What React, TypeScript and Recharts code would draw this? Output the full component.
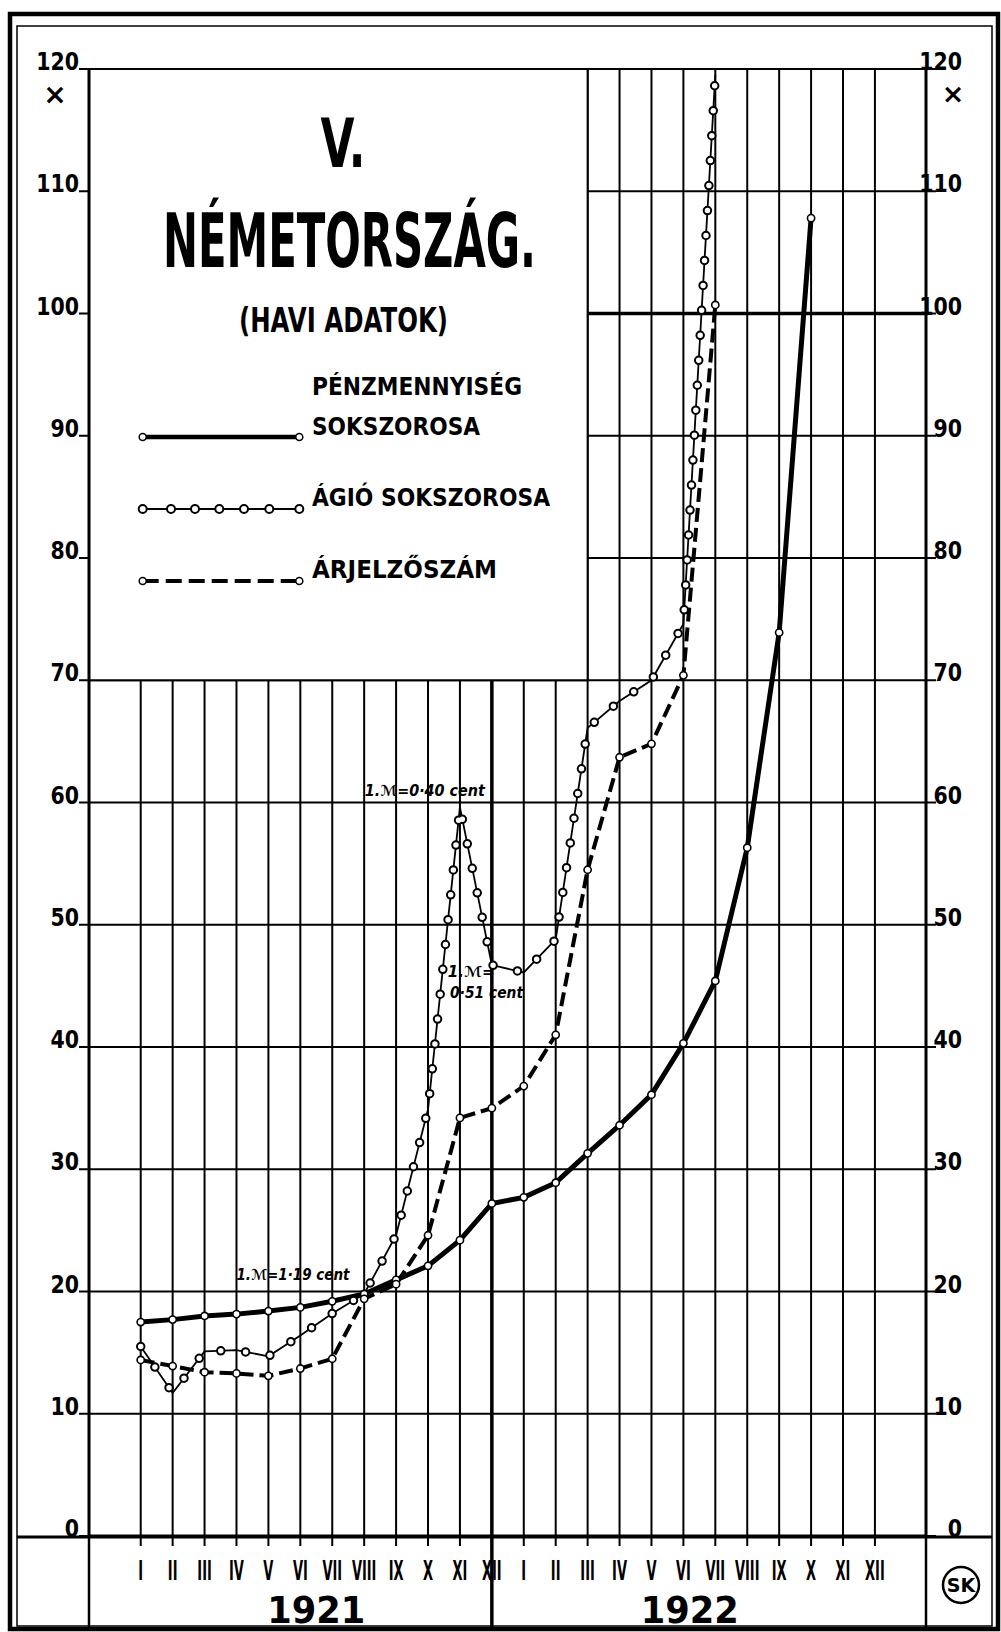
import React from "react"
import {
  LineChart,
  Line,
  XAxis,
  YAxis,
  CartesianGrid,
  ReferenceArea,
  ReferenceLine,
  ReferenceDot,
} from "recharts"

const WIDTH = 1001
const HEIGHT = 1632
const FONT = "'DejaVu Sans', 'Liberation Sans', sans-serif"

// hónapok és évek
const monthLabels = ["I", "II", "III", "IV", "V", "VI", "VII", "VIII", "IX", "X", "XI", "XII"]
const monthTicks = [0, 1, 2, 3, 4, 5, 6, 7, 8, 9, 10, 11, 12, 13, 14, 15, 16, 17, 18, 19, 20, 21, 22, 23]
const years = ["1921", "1922"]
const yearCenters = [5.5, 17.2]
const yTicks = [0, 10, 20, 30, 40, 50, 60, 70, 80, 90, 100, 110, 120]

// pénzmennyiség sokszorosa, 1921 I - 1922 X
const moneyValues = [
  17.5, 17.7, 18.0, 18.15, 18.4, 18.7, 19.2, 19.8, 20.95, 22.1, 24.2, 27.2,
  27.7, 28.9, 31.3, 33.6, 36.1, 40.3, 45.4, 56.3, 73.9, 107.8,
]
// ágió sokszorosa, 1921 I - 1922 VII
const agioValues = [
  15.5, 11.7, 15.1, 15.2, 14.7, 16.4, 18.2, 19.8, 24.6, 34.9, 59.6, 46.7,
  46.1, 48.8, 66.1, 68.3, 70.0, 74.6, 119.5,
]
// árjelzőszám, 1921 I - 1922 VII
const priceValues = [
  14.4, 13.9, 13.4, 13.3, 13.1, 13.7, 14.5, 19.4, 20.6, 24.6, 34.2, 35.0,
  36.8, 41.0, 54.5, 63.7, 64.8, 70.4, 100.7,
]

// feliratok a görbék mellett (hónap, érték)
const notes = [
  { m: 3.0, v: 20.9, text: "1.ℳ=1·19 cent", len: 113 },
  { m: 7.02, v: 60.5, text: "1.ℳ=0·40 cent", len: 120 },
  { m: 9.62, v: 45.7, text: "1.ℳ=", len: 47 },
  { m: 9.69, v: 44.0, text: "0·51 cent", len: 73 },
]

const toSeries = (values: number[]) => values.map((v, i) => ({ m: i, v }))
const moneyData = toSeries(moneyValues)
const agioData = toSeries(agioValues)
const priceData = toSeries(priceValues)

const X_DOMAIN: [number, number] = [-1.62, 24.6]
const Y_BAND = -7.6

const hollowDot = { r: 3.6, fill: "#fff", stroke: "#000", strokeWidth: 1.6, strokeDasharray: "none" }

const LeftTick = ({ x, y, payload }: any) => (
  <g>
    <text
      transform={`translate(${x + 2},${y + 1}) scale(0.82,1)`}
      textAnchor="end"
      fontFamily={FONT}
      fontWeight="bold"
      fontSize={25}
    >
      {payload.value}
    </text>
    {payload.value === 120 && (
      <text x={x - 22} y={y + 35} textAnchor="middle" fontFamily={FONT} fontWeight="bold" fontSize={28}>
        ×
      </text>
    )}
  </g>
)

const RightTick = ({ x, y, payload }: any) => (
  <g>
    <text
      transform={`translate(${x + 24},${y + 1}) scale(0.82,1)`}
      textAnchor="end"
      fontFamily={FONT}
      fontWeight="bold"
      fontSize={25}
    >
      {payload.value}
    </text>
    {payload.value === 120 && (
      <text x={x + 15} y={y + 34} textAnchor="middle" fontFamily={FONT} fontWeight="bold" fontSize={27}>
        ×
      </text>
    )}
  </g>
)

const MonthTick = ({ x, y, payload }: any) => (
  <text
    transform={`translate(${x},${y + 32}) scale(0.5,1)`}
    textAnchor="middle"
    fontFamily={FONT}
    fontWeight="bold"
    fontSize={26}
  >
    {monthLabels[payload.value % 12]}
  </text>
)

const YearTick = ({ x, y, index }: any) => (
  <text
    x={x}
    y={y + 86}
    textAnchor="middle"
    fontFamily={FONT}
    fontWeight="bold"
    fontSize={38}
    textLength={98}
    lengthAdjust="spacingAndGlyphs"
  >
    {years[index]}
  </text>
)

const NoteShape = (text: string, len: number) => (props: any) => (
  <text
    x={props.cx}
    y={props.cy}
    fontFamily={FONT}
    fontStyle="italic"
    fontWeight="bold"
    fontSize={15}
    textLength={len}
    lengthAdjust="spacingAndGlyphs"
  >
    {text}
  </text>
)

function Overlay() {
  const t = { fontFamily: FONT, fontWeight: "bold" as const, lengthAdjust: "spacingAndGlyphs" }
  const chain = [142.7, 171, 195, 219.3, 244, 269.3, 299.3]
  return (
    <svg
      width={WIDTH}
      height={HEIGHT}
      style={{ position: "absolute", left: 0, top: 0, pointerEvents: "none" }}
    >
      <rect x={10} y={14} width={988} height={1615} fill="none" stroke="#000" strokeWidth={4.5} />
      <rect x={17} y={26} width={975} height={1600} fill="none" stroke="#000" strokeWidth={1.5} />
      <line x1={17} y1={1537} x2={992} y2={1537} stroke="#000" strokeWidth={3} />
      <line x1={89} y1={1536} x2={89} y2={1628} stroke="#000" strokeWidth={2.5} />
      <line x1={926} y1={1536} x2={926} y2={1628} stroke="#000" strokeWidth={2.5} />

      <text x={343} y={167} textAnchor="middle" fontSize={67} textLength={45} {...t}>V.</text>
      <text x={163} y={267} fontSize={74} textLength={373} {...t}>NÉMETORSZÁG.</text>
      <text x={239} y={332} fontSize={33} textLength={209} {...t}>(HAVI ADATOK)</text>

      <text x={312} y={395} fontSize={25} textLength={210} {...t}>PÉNZMENNYISÉG</text>
      <text x={312} y={435} fontSize={25} textLength={168} {...t}>SOKSZOROSA</text>
      <line x1={142.7} y1={437} x2={299.3} y2={437} stroke="#000" strokeWidth={4.5} />
      <circle cx={142.7} cy={437} r={3.5} fill="#fff" stroke="#000" strokeWidth={1.5} />
      <circle cx={299.3} cy={437} r={3.5} fill="#fff" stroke="#000" strokeWidth={1.5} />

      <text x={312} y={506} fontSize={25} textLength={238} {...t}>ÁGIÓ SOKSZOROSA</text>
      <line x1={142.7} y1={509} x2={299.3} y2={509} stroke="#000" strokeWidth={1.8} />
      {chain.map((cx) => (
        <circle key={cx} cx={cx} cy={509} r={4} fill="#fff" stroke="#000" strokeWidth={2} />
      ))}

      <text x={312} y={578} fontSize={25} textLength={185} {...t}>ÁRJELZŐSZÁM</text>
      <line x1={142.7} y1={581} x2={299.3} y2={581} stroke="#000" strokeWidth={4} strokeDasharray="16 7" />
      <circle cx={142.7} cy={581} r={3.5} fill="#fff" stroke="#000" strokeWidth={1.5} />
      <circle cx={299.3} cy={581} r={3.5} fill="#fff" stroke="#000" strokeWidth={1.5} />

      <circle cx={961} cy={1585} r={18} fill="none" stroke="#000" strokeWidth={2.5} />
      <text x={961} y={1592} textAnchor="middle" fontSize={19} {...t}>SK</text>
    </svg>
  )
}

export default function App() {
  return (
    <div style={{ position: "absolute", left: 0, top: 0, width: WIDTH, height: HEIGHT, background: "#fff" }}>
      <LineChart width={WIDTH} height={HEIGHT} margin={{ top: 69, right: 74, bottom: 94, left: 88 }}>
        <CartesianGrid stroke="#000" strokeWidth={2} />
        <XAxis
          type="number"
          dataKey="m"
          domain={X_DOMAIN}
          ticks={monthTicks}
          interval={0}
          allowDataOverflow
          height={1}
          axisLine={{ stroke: "#000", strokeWidth: 3 }}
          tickLine={{ stroke: "#000", strokeWidth: 2 }}
          tickSize={10}
          tick={<MonthTick />}
        />
        <XAxis
          xAxisId="yr"
          type="number"
          dataKey="m"
          domain={X_DOMAIN}
          ticks={yearCenters}
          interval={0}
          allowDataOverflow
          height={1}
          axisLine={false}
          tickLine={false}
          tickSize={0}
          tickMargin={0}
          tick={<YearTick />}
        />
        <YAxis
          type="number"
          domain={[0, 120]}
          ticks={yTicks}
          interval={0}
          allowDataOverflow
          width={1}
          axisLine={{ stroke: "#000", strokeWidth: 3 }}
          tickLine={{ stroke: "#000", strokeWidth: 2 }}
          tickSize={10}
          tick={<LeftTick />}
        />
        <YAxis
          yAxisId="r"
          orientation="right"
          type="number"
          domain={[0, 120]}
          ticks={yTicks}
          interval={0}
          allowDataOverflow
          width={1}
          axisLine={{ stroke: "#000", strokeWidth: 3 }}
          tickLine={{ stroke: "#000", strokeWidth: 2 }}
          tickSize={10}
          tick={<RightTick />}
        />

        <ReferenceLine
          segment={[{ x: 11, y: Y_BAND }, { x: 11, y: 70 }]}
          ifOverflow="visible"
          stroke="#000"
          strokeWidth={3.5}
        />
        <ReferenceLine
          segment={[{ x: 14, y: 100 }, { x: X_DOMAIN[1], y: 100 }]}
          stroke="#000"
          strokeWidth={3.5}
        />
        <ReferenceArea
          x1={X_DOMAIN[0]}
          x2={14}
          y1={70}
          y2={120}
          fill="#fff"
          fillOpacity={1}
          stroke="#000"
          strokeWidth={2}
        />

        <Line
          data={moneyData}
          dataKey="v"
          stroke="#000"
          strokeWidth={5}
          dot={hollowDot}
          activeDot={false}
          isAnimationActive={false}
        />
        <Line
          data={priceData}
          dataKey="v"
          stroke="#000"
          strokeWidth={4}
          strokeDasharray="14 6"
          dot={hollowDot}
          activeDot={false}
          isAnimationActive={false}
        />
        <Line
          data={agioData}
          dataKey="v"
          stroke="#000"
          strokeWidth={1.8}
          dot={false}
          activeDot={false}
          isAnimationActive={false}
        />
        <Line
          data={agioData}
          dataKey="v"
          stroke="#000"
          strokeWidth={9.5}
          strokeLinecap="round"
          strokeDasharray="0 25"
          dot={false}
          activeDot={false}
          isAnimationActive={false}
        />
        <Line
          data={agioData}
          dataKey="v"
          stroke="#fff"
          strokeWidth={5.5}
          strokeLinecap="round"
          strokeDasharray="0 25"
          dot={false}
          activeDot={false}
          isAnimationActive={false}
        />

        {notes.map((n) => (
          <ReferenceDot key={n.text} x={n.m} y={n.v} r={0} shape={NoteShape(n.text, n.len)} />
        ))}
      </LineChart>
      <Overlay />
    </div>
  )
}
